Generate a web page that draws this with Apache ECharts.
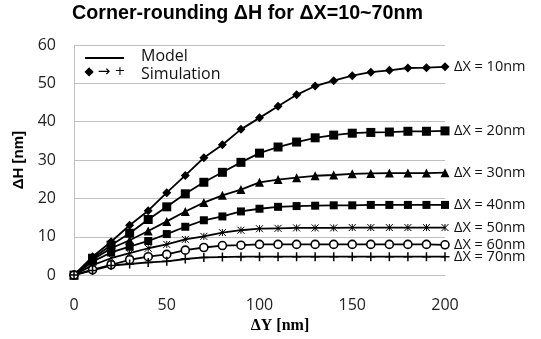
<!DOCTYPE html>
<html>
<head>
<meta charset="utf-8">
<script src="https://cdn.jsdelivr.net/npm/echarts@6/dist/echarts.min.js"></script>
<style>
html,body{margin:0;padding:0;background:#fff;}
#c{width:541px;height:339px;}
</style>
</head>
<body>
<div id="c"></div>
<script>
var dY = [0, 10, 20, 30, 40, 50, 60, 70, 80, 90, 100, 110, 120, 130, 140, 150, 160, 170, 180, 190, 200];
var dx10 = [0, 4.8, 8.7, 13.0, 16.8, 21.5, 26.0, 30.6, 34.0, 38.0, 41.0, 44.0, 47.0, 49.3, 50.7, 52.0, 52.9, 53.4, 54.0, 54.1, 54.3];
var dx20 = [0, 4.4, 7.8, 10.9, 14.5, 17.8, 21.2, 24.2, 26.8, 29.4, 31.8, 33.4, 34.7, 35.8, 36.5, 37.0, 37.2, 37.3, 37.5, 37.5, 37.6];
var dx30 = [0, 4.0, 7.0, 9.1, 11.5, 14.0, 16.6, 18.9, 20.8, 22.3, 24.2, 24.9, 25.4, 25.9, 26.1, 26.4, 26.5, 26.6, 26.6, 26.6, 26.7];
var dx40 = [0, 3.5, 5.9, 7.4, 8.9, 10.7, 12.6, 14.3, 15.3, 16.6, 17.3, 17.8, 18.0, 18.1, 18.2, 18.2, 18.3, 18.3, 18.3, 18.3, 18.3];
var dx50 = [0, 2.6, 4.4, 5.7, 7.0, 8.0, 9.3, 10.1, 11.1, 11.7, 12.1, 12.2, 12.3, 12.3, 12.3, 12.4, 12.4, 12.4, 12.4, 12.4, 12.4];
var dx60 = [0, 1.4, 2.7, 4.0, 4.8, 5.4, 6.5, 7.2, 7.7, 7.8, 8.0, 8.0, 8.0, 8.0, 8.0, 8.0, 8.0, 8.0, 8.0, 8.0, 7.9];
var dx70 = [0, 1.2, 2.5, 2.9, 3.3, 3.6, 4.2, 4.6, 4.7, 4.8, 4.8, 4.8, 4.8, 4.8, 4.8, 4.8, 4.8, 4.8, 4.8, 4.8, 4.8];
var seriesNames = ['ΔX = 10nm', 'ΔX = 20nm', 'ΔX = 30nm', 'ΔX = 40nm', 'ΔX = 50nm', 'ΔX = 60nm', 'ΔX = 70nm'];
var seriesValues = [dx10, dx20, dx30, dx40, dx50, dx60, dx70];
var yTicks = [0, 10, 20, 30, 40, 50, 60];
var xTicks = [0, 50, 100, 150, 200];

var symbols = [
  {symbol: 'diamond', size: 9, fill: '#000', bw: 0},
  {symbol: 'rect', size: 9, fill: '#000', bw: 0},
  {symbol: 'triangle', size: 9, fill: '#000', bw: 0},
  {symbol: 'rect', size: 8, fill: '#000', bw: 0},
  {symbol: 'path://M0,0 L10,10 M10,0 L0,10 M5,0 L5,10', size: 7, fill: 'none', bw: 1},
  {symbol: 'circle', size: 8, fill: '#fff', bw: 1.6},
  {symbol: 'path://M0,5 L10,5 M5,0 L5,10', size: 9, fill: 'none', bw: 1.5}
];

var series = seriesValues.map(function (vals, i) {
  var s = symbols[i];
  return {
    type: 'line',
    name: seriesNames[i],
    data: dY.map(function (x, j) { return [x, vals[j]]; }),
    symbol: s.symbol,
    symbolSize: s.size,
    showAllSymbol: true,
    lineStyle: {color: '#000', width: 1.8},
    itemStyle: {color: s.fill, borderColor: '#000', borderWidth: s.bw},
    emphasis: {disabled: true},
    endLabel: {
      show: true,
      formatter: seriesNames[i],
      distance: 9,
      color: '#111',
      fontFamily: 'Open Sans',
      fontSize: 14.5
    }
  };
});

var chart = echarts.init(document.getElementById('c'), null, {renderer: 'canvas'});
chart.setOption({
  animation: false,
  backgroundColor: '#fff',
  title: {
    text: 'Corner-rounding ΔH for ΔX=10~70nm',
    left: 72, top: 4, padding: 0,
    textStyle: {fontFamily: 'Liberation Sans', fontWeight: 'bold', fontSize: 19.7, color: '#000'}
  },
  grid: {left: 74, right: 96, top: 45, bottom: 62, containLabel: false},
  xAxis: {
    type: 'value', min: 0, max: 200, interval: 50,
    name: 'ΔY [nm]', nameLocation: 'middle', nameGap: 39,
    nameTextStyle: {fontFamily: 'Liberation Serif', fontWeight: 'bold', fontSize: 16, color: '#000', padding: [0, 0, 0, 41]},
    axisLine: {show: true, lineStyle: {color: '#c0c0c0', width: 1}},
    axisTick: {show: false},
    splitLine: {show: false},
    axisLabel: {margin: 22, fontFamily: 'Open Sans', fontSize: 16, color: '#222',
      formatter: function (v) { return xTicks.indexOf(v) >= 0 ? String(v) : ''; }}
  },
  yAxis: {
    type: 'value', min: 0, max: 60, interval: 10,
    name: 'ΔH [nm]', nameLocation: 'middle', nameGap: 41, nameRotate: 90,
    nameTextStyle: {fontFamily: 'Liberation Sans', fontWeight: 'bold', fontSize: 15, color: '#000'},
    axisLine: {show: true, lineStyle: {color: '#c0c0c0', width: 1}},
    axisTick: {show: false},
    splitLine: {show: true, lineStyle: {color: '#c0c0c0', width: 1}},
    axisLabel: {margin: 18, fontFamily: 'Open Sans', fontSize: 16, color: '#222',
      formatter: function (v) { return yTicks.indexOf(v) >= 0 ? String(v) : ''; }}
  },
  graphic: [
    {type: 'line', shape: {x1: 85, y1: 58, x2: 124, y2: 58}, style: {stroke: '#000', lineWidth: 2.2}, z: 100},
    {type: 'text', x: 141, y: 56, style: {text: 'Model', fontFamily: 'Open Sans', fontSize: 16, fill: '#111', verticalAlign: 'middle'}, z: 100},
    {type: 'text', x: 89, y: 72, style: {text: '◆', fontFamily: 'DejaVu Sans', fontSize: 12, fill: '#000', align: 'center', verticalAlign: 'middle'}, z: 100},
    {type: 'text', x: 104, y: 72, style: {text: '→', fontFamily: 'DejaVu Sans', fontSize: 15, fill: '#000', align: 'center', verticalAlign: 'middle'}, z: 100},
    {type: 'text', x: 120, y: 72, style: {text: '+', fontFamily: 'DejaVu Sans', fontSize: 13, fill: '#000', align: 'center', verticalAlign: 'middle'}, z: 100},
    {type: 'text', x: 141, y: 74, style: {text: 'Simulation', fontFamily: 'Open Sans', fontSize: 16, fill: '#111', verticalAlign: 'middle'}, z: 100}
  ],
  series: series
});
</script>
</body>
</html>
